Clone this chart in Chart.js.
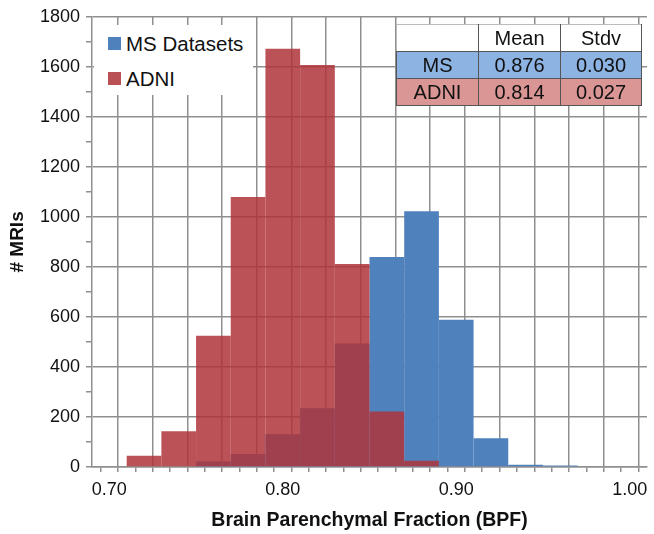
<!DOCTYPE html>
<html>
<head>
<meta charset="utf-8">
<script src="https://cdn.jsdelivr.net/npm/chart.js@4.4.1/dist/chart.umd.min.js"></script>
<style>
  html, body { margin: 0; padding: 0; background: #fff; }
  #wrap { position: relative; width: 654px; height: 534px; font-family: "Liberation Sans", Arial, Helvetica, sans-serif; }
  #c { position: absolute; left: 0; top: 0; }
  #legend { position: absolute; left: 94px; top: 25px; width: 159px; height: 70px; background: #fff; }
  .li { position: absolute; left: 14px; font-size: 20.5px; color: #111; line-height: 22px; white-space: nowrap; }
  .sw { display: inline-block; width: 13px; height: 13px; margin-right: 5px; vertical-align: 1px; }
  #stats { position: absolute; left: 396px; top: 24px; border-collapse: collapse; font-size: 20px; color: #111; }
  #stats td { border: 1px solid #555; height: 26px; padding: 0; text-align: center; line-height: 24px; }
  #stats td.c0 { width: 81px; }
  #stats td.c1 { width: 81px; }
  #stats td.c2 { width: 80px; }
  #stats tr.hdr td { background: #fff; border-top-color: #bbb; }
  #stats tr.hdr td.c0 { border-left-color: #bbb; }
  #stats tr.ms td { background: #8db3e2; }
  #stats tr.ad td { background: #d99694; }
</style>
</head>
<body>
<div id="wrap">
  <canvas id="c" width="654" height="534"></canvas>
  <div id="legend"></div>
  <table id="stats"></table>
</div>
<script>
// ---- data ----
const binCenters = [0.72, 0.74, 0.76, 0.78, 0.80, 0.82, 0.84, 0.86, 0.88, 0.90, 0.92, 0.94, 0.96];
const msCounts   = [0, 0, 22, 52, 131, 235, 494, 840, 1023, 589, 115, 9, 6];
const adniCounts = [45, 143, 525, 1080, 1672, 1607, 812, 222, 25, 0, 0, 0, 0];
const seriesNames = ["MS Datasets", "ADNI"];
const xTickLabels = [0.70, 0.80, 0.90, 1.00];
const yTickLabels = [0, 200, 400, 600, 800, 1000, 1200, 1400, 1600, 1800];
const tableHeader = ["", "Mean", "Stdv"];
const tableRows = [["MS", "0.876", "0.030"], ["ADNI", "0.814", "0.027"]];

const BLUE = "rgb(79,129,189)";
const RED = "rgba(174,52,58,0.85)";
const GRID = "#8f8f8f";
const FONT = "'Liberation Sans', Arial, Helvetica, sans-serif";

// legend overlay
const legendColors = [BLUE, "rgb(185,80,84)"];
const lg = document.getElementById("legend");
seriesNames.forEach((n, i) => {
  const d = document.createElement("div");
  d.className = "li";
  d.style.top = (8 + i * 35) + "px";
  const s = document.createElement("span");
  s.className = "sw";
  s.style.background = legendColors[i];
  d.appendChild(s);
  d.appendChild(document.createTextNode(n));
  lg.appendChild(d);
});

// stats table overlay
const tb = document.getElementById("stats");
const addRow = (cells, cls) => {
  const tr = document.createElement("tr");
  tr.className = cls;
  cells.forEach((t, i) => {
    const td = document.createElement("td");
    td.className = "c" + i;
    td.textContent = t;
    tr.appendChild(td);
  });
  tb.appendChild(tr);
};
addRow(tableHeader, "hdr");
addRow(tableRows[0], "ms");
addRow(tableRows[1], "ad");

const r2 = v => Math.round(v * 100);

// bins are 0.02 wide while minor ticks are every 0.01, so each bar spans two tick gaps
const barCommon = { borderWidth: 0, grouped: false, barPercentage: 2.0, categoryPercentage: 1.0 };

new Chart(document.getElementById("c"), {
  type: "bar",
  data: {
    datasets: [
      Object.assign({
        label: seriesNames[0],
        data: binCenters.map((x, i) => ({ x: x, y: msCounts[i] })),
        backgroundColor: BLUE,
        order: 1
      }, barCommon),
      Object.assign({
        label: seriesNames[1],
        data: binCenters.map((x, i) => ({ x: x, y: adniCounts[i] })),
        backgroundColor: RED,
        order: 0
      }, barCommon)
    ]
  },
  options: {
    responsive: false,
    animation: false,
    devicePixelRatio: 1,
    layout: { padding: { left: 0, right: 4, top: 15, bottom: 0 } },
    plugins: { legend: { display: false }, tooltip: { enabled: false } },
    scales: {
      x: {
        type: "linear",
        min: 0.69,
        max: 1.01,
        offset: false,
        afterFit: s => { s.height = 67; },
        ticks: {
          stepSize: 0.01,
          autoSkip: false,
          maxRotation: 0,
          minRotation: 0,
          padding: 7,
          color: "#111",
          font: { family: FONT, size: 18 },
          callback: v => {
            const k = r2(v);
            return xTickLabels.some(t => r2(t) === k) ? (k / 100).toFixed(2) : "";
          }
        },
        grid: {
          color: ctx => (ctx.tick && r2(ctx.tick.value) % 2 === 1) ? GRID : "rgba(0,0,0,0)",
          tickColor: GRID,
          lineWidth: 1.5,
          tickLength: 5,
          drawTicks: true
        },
        border: { display: true, color: GRID, width: 1.5 },
        title: {
          display: true,
          text: "Brain Parenchymal Fraction (BPF)",
          color: "#111",
          font: { family: FONT, size: 19.5, weight: "bold" },
          padding: { top: 0, bottom: 2 }
        }
      },
      y: {
        min: 0,
        max: 1800,
        afterFit: s => { s.width = 92; },
        ticks: {
          stepSize: 100,
          autoSkip: false,
          padding: 6,
          color: "#111",
          font: { family: FONT, size: 18 },
          callback: v => yTickLabels.includes(Math.round(v)) ? String(Math.round(v)) : ""
        },
        grid: {
          color: ctx => (ctx.tick && Math.round(ctx.tick.value) % 200 === 0) ? GRID : "rgba(0,0,0,0)",
          tickColor: GRID,
          lineWidth: 1.5,
          tickLength: 6
        },
        border: { display: true, color: GRID, width: 1.5 },
        title: {
          display: true,
          text: "# MRIs",
          color: "#111",
          font: { family: FONT, size: 19, weight: "bold" },
          padding: { top: 6, bottom: 0 }
        }
      }
    }
  }
});
</script>
</body>
</html>
